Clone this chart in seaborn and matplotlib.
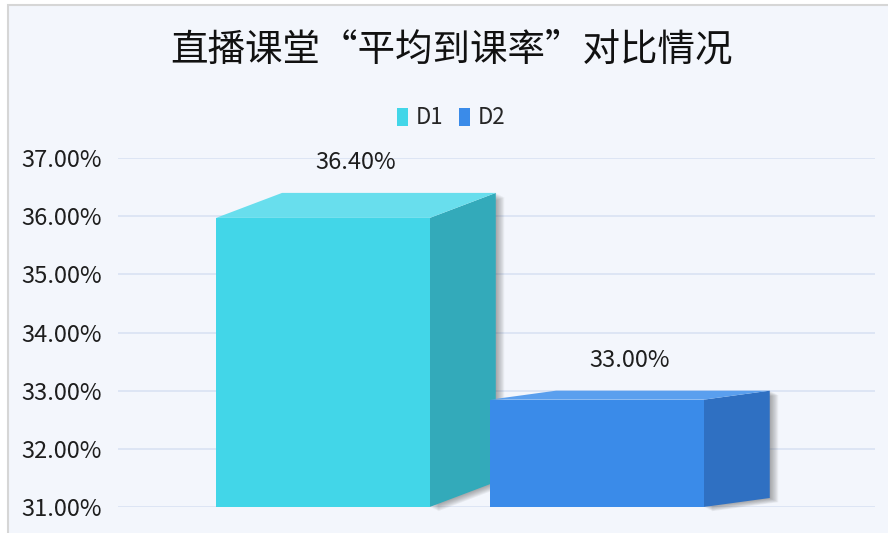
import matplotlib
matplotlib.use("Agg")
import matplotlib.pyplot as plt
import matplotlib.ticker as mticker
from matplotlib.patches import Polygon, Rectangle, Patch
import seaborn as sns
import pandas as pd

# --- data ---
series = ["D1", "D2"]
rates = [36.40, 33.00]
y_ticks = [31, 32, 33, 34, 35, 36, 37]
title = "直播课堂“平均到课率”对比情况"

# --- style ---
front_colors = ["#42d6e8", "#3a8be9"]
top_colors = ["#68deed", "#5a9fee"]
side_colors = ["#33aaba", "#2f70c2"]
depth_dy_px = [25, 9]     # perspective differs per bar
depth_dx_px = 66
bg = "#f3f6fc"

sns.set_style("white")
plt.rcParams["font.family"] = ["Noto Sans CJK SC", "DejaVu Sans"]

fig = plt.figure(figsize=(8.88, 5.33), dpi=100)
fig.patch.set_facecolor("white")
fig.add_artist(Rectangle((7.5 / 888, -0.02), 1.0, 1 - 5.5 / 533 + 0.02,
                         transform=fig.transFigure, facecolor=bg,
                         edgecolor="#d6d6d6", lw=1.5, zorder=0))

ax = fig.add_axes([118 / 888, 26 / 533, 757 / 888, 349 / 533])
ax.set_facecolor("none")

df = pd.DataFrame({"series": series, "rate": rates})
sns.barplot(data=df, x="series", y="rate", hue="series", palette=front_colors,
            width=0.78, dodge=False, legend=False, saturation=1, ax=ax)

ax.set_ylim(y_ticks[0], y_ticks[-1])
ax.set_xlim(-0.748, 2.015)
ax.set_yticks(y_ticks)
ax.yaxis.set_major_formatter(mticker.FuncFormatter(lambda v, _: f"{v:.2f}%"))
ax.set_xticks([])
ax.set_xlabel("")
ax.set_ylabel("")
ax.tick_params(axis="y", length=0, pad=11.5, labelsize=17, labelcolor="#1e1e1e")
for s in ax.spines.values():
    s.set_visible(False)
ax.yaxis.grid(True, color="#dbe4f4", lw=1.3)
ax.set_axisbelow(True)

# px -> data scale
t0 = ax.transData.transform((0, 0))
t1 = ax.transData.transform((1, 1))
ppu_x = t1[0] - t0[0]
ppu_y = t1[1] - t0[1]
base = y_ticks[0]

bars = sorted(ax.patches, key=lambda p: p.get_x())
for i, p in enumerate(bars):
    x0, w, v = p.get_x(), p.get_width(), p.get_height()
    dx = depth_dx_px / ppu_x
    dy = depth_dy_px[i] / ppu_y
    yf = v - dy
    z = 3 + i
    p.set_y(base)
    p.set_height(yf - base)
    p.set_edgecolor("none")
    p.set_zorder(z + 0.2)

    # soft shadow on the right side
    for k in range(1, 8):
        sx = k * 1.2 / ppu_x
        sy = -k * 0.6 / ppu_y
        ax.add_patch(Polygon([(x0 + w + sx, base + sy), (x0 + w + dx + sx, base + dy + sy),
                              (x0 + w + dx + sx, v + sy), (x0 + w + sx, yf + sy)],
                             closed=True, facecolor="#404040", alpha=0.07,
                             edgecolor="none", zorder=z, clip_on=False))

    ax.add_patch(Polygon([(x0 + w, base), (x0 + w + dx, base + dy),
                          (x0 + w + dx, v), (x0 + w, yf)],
                         closed=True, facecolor=side_colors[i], edgecolor="none",
                         zorder=z + 0.1))
    ax.add_patch(Polygon([(x0, yf), (x0 + w, yf), (x0 + w + dx, v), (x0 + dx, v)],
                         closed=True, facecolor=top_colors[i], edgecolor="none",
                         zorder=z + 0.1))
    ax.annotate(f"{rates[i]:.2f}%", xy=(x0 + w / 2 + dx / 2, v),
                xytext=(0, 21.6), textcoords="offset points",
                ha="center", va="center", fontsize=17, color="#1e1e1e",
                zorder=10, annotation_clip=False)

fig.text(0.508, 1 - 50 / 533, title, ha="center", va="center",
         fontsize=27, color="#111111")

handles = [Patch(facecolor=c, edgecolor="none") for c in front_colors]
fig.legend(handles, series, loc="center", bbox_to_anchor=(0.508, 1 - 118 / 533),
           ncol=2, frameon=False, fontsize=16, handlelength=0.5,
           handleheight=0.85, handletextpad=0.35, columnspacing=0.7)

fig.savefig("out.png", dpi=100, facecolor=fig.get_facecolor())
